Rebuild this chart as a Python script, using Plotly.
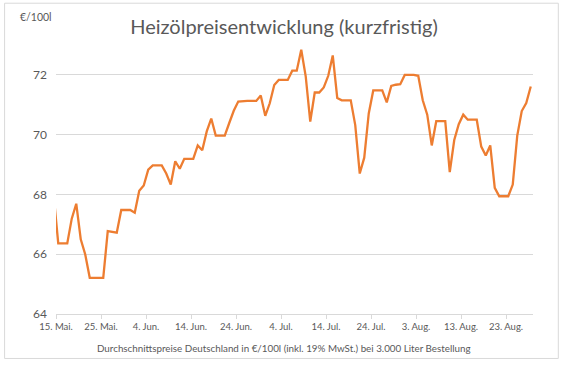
import pandas as pd
import plotly.graph_objects as go

# ---- data (daily prices, €/100 l) ----
start_date = "2020-05-14"
prices = [
    67.95,
    66.36, 66.36, 66.36, 67.19, 67.69, 66.50, 65.99, 65.21, 65.21, 65.21,
    65.21, 66.77, 66.75, 66.72, 67.48, 67.48, 67.48, 67.39, 68.12, 68.30,
    68.83, 68.97, 68.97, 68.97, 68.70, 68.33, 69.11, 68.86, 69.19, 69.19,
    69.19, 69.64, 69.48, 70.11, 70.54, 69.97, 69.97, 69.97, 70.39, 70.80,
    71.11, 71.13, 71.13, 71.13, 71.13, 71.31, 70.63, 71.05, 71.66, 71.83,
    71.83, 71.83, 72.14, 72.14, 72.84, 71.94, 70.44, 71.41, 71.41, 71.58,
    71.97, 72.65, 71.23, 71.15, 71.15, 71.15, 70.32, 68.70, 69.23, 70.71,
    71.48, 71.48, 71.48, 71.08, 71.63, 71.67, 71.69, 72.00, 72.00, 72.00,
    71.97, 71.15, 70.67, 69.64, 70.45, 70.45, 70.45, 68.75, 69.82, 70.35,
    70.67, 70.50, 70.50, 70.50, 69.60, 69.30, 69.64, 68.22, 67.94, 67.94,
    67.94, 68.33, 69.97, 70.79, 71.06, 71.61,
]
tick_dates = ["2020-05-15", "2020-05-25", "2020-06-04", "2020-06-14", "2020-06-24",
              "2020-07-04", "2020-07-14", "2020-07-24", "2020-08-03", "2020-08-13",
              "2020-08-23"]
tick_labels = ["15. Mai.", "25. Mai.", "4. Jun.", "14. Jun.", "24. Jun.", "4. Jul.",
               "14. Jul.", "24. Jul.", "3. Aug.", "13. Aug.", "23. Aug."]
y_ticks = [64, 66, 68, 70, 72]

title_text = "Heizölpreisentwicklung (kurzfristig)"
unit_text = "€/100l"
caption_text = "Durchschnittspreise Deutschland in €/100l (inkl. 19% MwSt.) bei 3.000 Liter Bestellung"

# points sit in the middle of each day (Excel date axis, between tick marks)
dates = pd.date_range(start_date, periods=len(prices), freq="D") + pd.Timedelta(hours=12)

FONT = "Lato, 'Open Sans', sans-serif"
GREY = "#595959"
GRID = "#d9d9d9"

fig = go.Figure()
fig.add_trace(go.Scatter(x=dates, y=prices, mode="lines",
                         line=dict(color="#ED7D31", width=2.3), hoverinfo="skip"))

L, R, T, B = 55.7, 35.3, 45.4, 52.5
W, H = 568, 367
pw, ph = W - L - R, H - T - B

fig.update_layout(
    width=W, height=H,
    margin=dict(l=L, r=R, t=T, b=B, pad=0, autoexpand=False),
    paper_bgcolor="white", plot_bgcolor="white",
    showlegend=False,
    font=dict(family=FONT, color=GREY, size=11),
    title=dict(text=title_text, x=0.5, xanchor="center", y=1 - 27 / H, yanchor="middle",
               font=dict(family=FONT, size=20, color=GREY)),
    xaxis=dict(type="date", range=["2020-05-15", "2020-08-29"],
               tickvals=tick_dates, ticktext=tick_labels,
               showgrid=False, showline=True, linecolor=GRID, linewidth=1,
               ticks="outside", ticklen=4, tickcolor=GRID,
               tickfont=dict(size=9.5, color=GREY), zeroline=False),
    yaxis=dict(range=[64, 73], tickvals=y_ticks, showgrid=True, gridcolor=GRID,
               gridwidth=1, zeroline=False, showline=False, ticks="",
               tickfont=dict(size=12, color=GREY), ticklabelstandoff=8),
)

fig.add_annotation(text=unit_text, xref="paper", yref="paper",
                   x=(18 - L) / pw, y=(H - B - 17) / ph, xanchor="left", yanchor="middle",
                   showarrow=False, font=dict(size=10.5, color=GREY))

fig.add_annotation(text=caption_text, xref="paper", yref="paper",
                   x=(283.5 - L) / pw, y=(H - B - 349) / ph, xanchor="center", yanchor="middle",
                   showarrow=False, font=dict(size=9.8, color=GREY))

fig.add_shape(type="rect", xref="paper", yref="paper",
              x0=(4.3 - L) / pw, x1=(558 - L) / pw,
              y0=(H - B - 359) / ph, y1=(H - B - 3.6) / ph,
              line=dict(color=GRID, width=1), fillcolor="rgba(0,0,0,0)", layer="below")

fig.write_html("out.html", config={"displayModeBar": False},
               post_script="document.body.style.margin='0';document.body.style.overflow='hidden';")
